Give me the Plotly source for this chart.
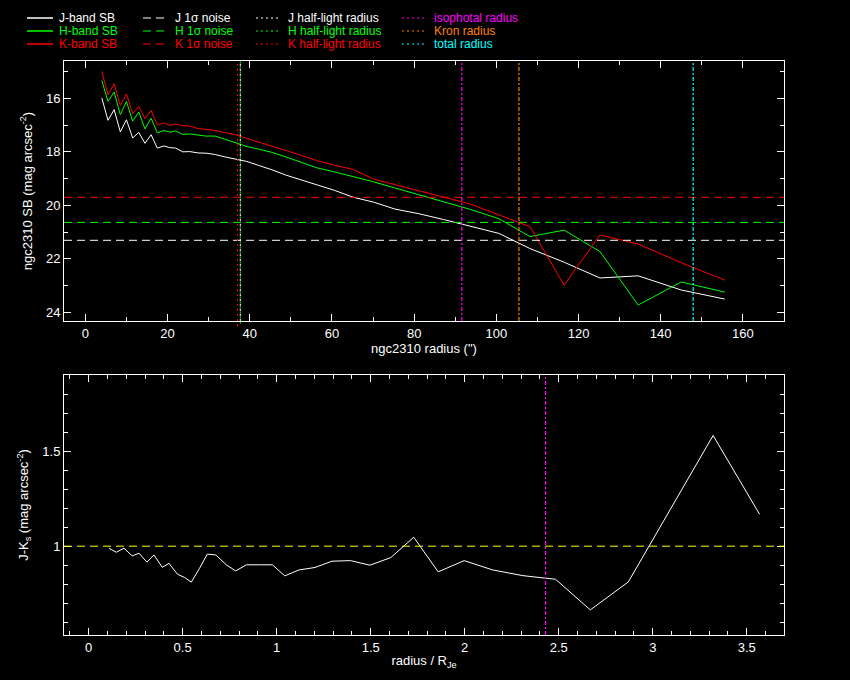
"""Surface brightness and J-Ks colour profiles of ngc2310, PGPLOT style."""

import plotly.graph_objects as go

# Radial samples (arcsec) shared by the J, H, K profiles
RADIUS = [4.0, 5.5, 7.0, 8.5, 10.0, 11.5, 13.0, 14.5, 16.0, 17.5,
          19.1, 20.5, 22.0, 23.7, 25.4, 27.4, 29.4, 31.6, 34.0, 36.5,
          39.3, 42.2, 45.4, 48.8, 52.5, 56.4, 60.6, 65.2, 70.1, 75.3,
          81.0, 87.1, 93.6, 100.6, 108.2, 116.5, 125.2, 134.5, 145.0, 155.6]

J_SB = [15.98, 16.82, 16.42, 17.25, 16.80, 17.48, 17.27, 17.68, 17.36, 17.86,
        17.78, 17.84, 17.86, 18.00, 17.99, 18.04, 18.05, 18.10, 18.19, 18.28,
        18.36, 18.51, 18.67, 18.87, 19.05, 19.23, 19.44, 19.70, 19.88, 20.14,
        20.31, 20.53, 20.78, 21.05, 21.62, 22.13, 22.72, 22.64, 23.17, 23.51]

H_SB = [15.33, 16.11, 15.76, 16.61, 16.11, 16.85, 16.51, 17.14, 16.74, 17.29,
        17.20, 17.26, 17.22, 17.35, 17.33, 17.38, 17.41, 17.41, 17.53, 17.64,
        17.80, 17.90, 18.02, 18.19, 18.39, 18.60, 18.75, 18.92, 19.12, 19.35,
        19.60, 19.84, 20.15, 20.50, 21.17, 20.93, 21.73, 23.73, 22.87, 23.25]

K_SB = [14.99, 15.87, 15.45, 16.26, 15.83, 16.57, 16.30, 16.76, 16.45, 16.99,
        16.92, 17.01, 16.96, 17.03, 17.03, 17.13, 17.16, 17.20, 17.28, 17.36,
        17.50, 17.63, 17.78, 17.95, 18.13, 18.33, 18.50, 18.66, 19.02, 19.22,
        19.43, 19.69, 19.95, 20.36, 20.80, 22.99, 21.11, 21.45, 22.15, 22.80]

# J-Ks colour profile against radius / R_Je
JK_RATIO = [0.108, 0.147, 0.188, 0.232, 0.268, 0.310, 0.347, 0.392, 0.427, 0.472,
            0.511, 0.546, 0.590, 0.631, 0.676, 0.732, 0.782, 0.839, 0.910, 0.977,
            1.043, 1.119, 1.204, 1.294, 1.393, 1.496, 1.607, 1.729, 1.859, 1.997,
            2.149, 2.310, 2.483, 2.668, 2.870, 3.321, 3.568]
JK_COLOUR = [0.989, 0.968, 0.989, 0.949, 0.963, 0.916, 0.954, 0.889, 0.910, 0.853,
             0.835, 0.811, 0.884, 0.958, 0.954, 0.902, 0.870, 0.902, 0.902, 0.902,
             0.844, 0.875, 0.888, 0.921, 0.924, 0.900, 0.940, 1.047, 0.865, 0.924,
             0.875, 0.845, 0.826, 0.665, 0.812, 1.582, 1.168]

# 1-sigma noise levels (mag arcsec^-2)
NOISE = {'J': 21.31, 'H': 20.64, 'K': 19.70}
# half-light radii (arcsec)
HALF_LIGHT = {'J': 37.7, 'H': 37.7, 'K': 37.0}
ISO_RADIUS = 91.6
KRON_RADIUS = 105.5
TOTAL_RADIUS = 147.9
JK_REFERENCE = 1.0

WHITE = '#ffffff'
GREEN = '#00ff00'
RED = '#ff0000'
MAGENTA = '#ff00ff'
ORANGE = '#ff8000'
CYAN = '#00ffff'
YELLOW = '#ffff00'
BAND_COLOUR = {'J': WHITE, 'H': GREEN, 'K': RED}

FONT = 'Liberation Sans'
DASH = '8px,5px'
DOT = '2px,3px'
DASHDOT = '4px,2px,2px,2px'

# figure geometry in pixels
W, H = 850, 680
L, R, T, B = 64, 66, 61, 45
TOP_PANEL_PX = 260


def px_x(p):
    """Pixel column -> paper x."""
    return (p - L) / (W - L - R)


def px_y(p):
    """Pixel row -> paper y."""
    return (H - B - p) / (H - T - B)


fig = go.Figure()

for band, values in (('J', J_SB), ('H', H_SB), ('K', K_SB)):
    fig.add_trace(go.Scatter(x=RADIUS, y=values, mode='lines',
                             line={'color': BAND_COLOUR[band], 'width': 1},
                             xaxis='x', yaxis='y', showlegend=False))

fig.add_trace(go.Scatter(x=JK_RATIO, y=JK_COLOUR, mode='lines',
                         line={'color': WHITE, 'width': 1},
                         xaxis='x2', yaxis='y2', showlegend=False))

shapes = []
# noise levels
for band in ('J', 'H', 'K'):
    shapes.append(dict(type='line', xref='x domain', yref='y', x0=0, x1=1,
                       y0=NOISE[band], y1=NOISE[band],
                       line={'color': BAND_COLOUR[band], 'width': 1, 'dash': DASH}))
# half-light radii; each band's dots start a little lower so coincident lines interleave
for i, band in enumerate(('J', 'H', 'K')):
    shift = i * 2.5 / TOP_PANEL_PX
    shapes.append(dict(type='line', xref='x', yref='y domain',
                       x0=HALF_LIGHT[band], x1=HALF_LIGHT[band], y0=-shift, y1=1,
                       line={'color': BAND_COLOUR[band], 'width': 1, 'dash': DOT}))
for radius, colour in ((ISO_RADIUS, MAGENTA), (KRON_RADIUS, ORANGE), (TOTAL_RADIUS, CYAN)):
    shapes.append(dict(type='line', xref='x', yref='y domain', x0=radius, x1=radius,
                       y0=0, y1=1, line={'color': colour, 'width': 1.2, 'dash': DASHDOT}))
# lower panel
shapes.append(dict(type='line', xref='x2 domain', yref='y2', x0=0, x1=1,
                   y0=JK_REFERENCE, y1=JK_REFERENCE,
                   line={'color': YELLOW, 'width': 1, 'dash': DASH}))
iso_ratio = ISO_RADIUS / HALF_LIGHT['J']
shapes.append(dict(type='line', xref='x2', yref='y2 domain', x0=iso_ratio, x1=iso_ratio,
                   y0=0, y1=1, line={'color': MAGENTA, 'width': 1.2, 'dash': DASHDOT}))

# hand-built legend above the top panel
LEGEND = [
    [('J-band SB', WHITE, 'solid'), ('H-band SB', GREEN, 'solid'), ('K-band SB', RED, 'solid')],
    [('J 1σ noise', WHITE, DASH), ('H 1σ noise', GREEN, DASH), ('K 1σ noise', RED, DASH)],
    [('J half-light radius', WHITE, DOT), ('H half-light radius', GREEN, DOT),
     ('K half-light radius', RED, DOT)],
    [('isophotal radius', MAGENTA, DOT), ('Kron radius', ORANGE, DOT), ('total radius', CYAN, DOT)],
]
COLUMN_PX = [(27, 53, 57), (143, 166, 173), (256, 280, 286), (402, 426, 432)]
ROW_PX = [18, 31, 44]

annotations = []
for column, (x0, x1, xt) in zip(LEGEND, COLUMN_PX):
    for (label, colour, dash), row in zip(column, ROW_PX):
        shapes.append(dict(type='line', xref='paper', yref='paper',
                           x0=px_x(x0), x1=px_x(x1), y0=px_y(row), y1=px_y(row),
                           line={'color': colour, 'width': 1.5 if dash == 'solid' else 1,
                                 'dash': dash}))
        annotations.append(dict(text=label, xref='paper', yref='paper',
                                x=px_x(xt), y=px_y(row), xanchor='left', yanchor='middle',
                                showarrow=False, font={'family': FONT, 'size': 12, 'color': colour}))

axis_common = dict(
    showgrid=False, zeroline=False, showline=True, linecolor=WHITE, linewidth=1,
    mirror='ticks', ticks='inside', ticklen=7, tickcolor=WHITE, tickwidth=1,
    tickfont={'family': FONT, 'size': 13, 'color': WHITE},
    title_font={'family': FONT, 'size': 13, 'color': WHITE},
)

top_bottom = px_y(T + TOP_PANEL_PX)
low_top = px_y(375)

fig.update_layout(
    width=W, height=H,
    margin={'l': L, 'r': R, 't': T, 'b': B},
    paper_bgcolor='black', plot_bgcolor='black',
    showlegend=False,
    shapes=shapes, annotations=annotations,
    xaxis=dict(axis_common, domain=[0, 1], anchor='y', range=[-5.2, 170], dtick=20,
               minor={'dtick': 10, 'ticklen': 4, 'ticks': 'inside', 'tickcolor': WHITE},
               title={'text': 'ngc2310 radius (")', 'standoff': 4}),
    yaxis=dict(axis_common, domain=[top_bottom, 1], anchor='x', range=[24.33, 14.6], dtick=2,
               minor={'dtick': 1, 'ticklen': 4, 'ticks': 'inside', 'tickcolor': WHITE},
               title={'text': 'ngc2310 SB (mag arcsec<sup>-2</sup>)', 'standoff': 10}),
    xaxis2=dict(axis_common, domain=[0, 1], anchor='y2', range=[-0.131, 3.698], dtick=0.5,
                minor={'dtick': 0.1, 'ticklen': 4, 'ticks': 'inside', 'tickcolor': WHITE},
                title={'text': 'radius / R<sub>Je</sub>', 'standoff': 2}),
    yaxis2=dict(axis_common, domain=[0, low_top], anchor='x2', range=[0.533, 1.9], dtick=0.5,
                minor={'dtick': 0.1, 'ticklen': 4, 'ticks': 'inside', 'tickcolor': WHITE},
                title={'text': 'J-K<sub>s</sub> (mag arcsec<sup>-2</sup>)', 'standoff': 10}),
)

# drop the page margin so the figure sits flush in the window
PAGE_STYLE = ("document.body.style.margin='0';"
              "document.body.style.background='black';"
              "document.body.style.overflow='hidden';")
fig.write_html("out.html", post_script=PAGE_STYLE, config={'displayModeBar': False})
